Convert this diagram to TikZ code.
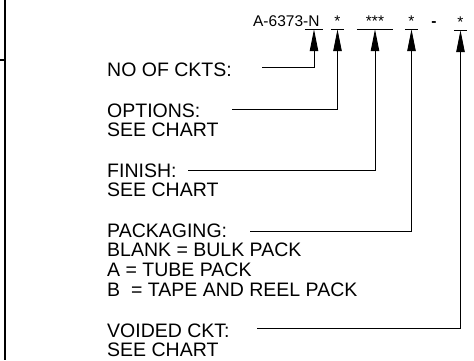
\documentclass[tikz,border=0pt]{standalone}
\usepackage{fontspec}
\setmainfont{Liberation Sans}
\usetikzlibrary{positioning,arrows.meta}

\begin{document}
\begin{tikzpicture}[x=1pt, y=-1pt, node distance=5.5pt,
        code/.style={font=\fontsize{15.5}{15.5}\selectfont, inner sep=0pt, text depth=3pt, anchor=base},
        note/.style={font=\fontsize{19.5}{19.5}\selectfont, inner sep=0pt, text height=14pt, text depth=0pt, anchor=west},
        feed/.style={line width=0.9pt, -{Triangle[length=22pt, width=8.5pt]}}]
        \useasboundingbox (0,0) rectangle (474,360);

        % Part number
        \node (PRE) [code, anchor=base east] at (308.5,26) {A-6373-};
        \node (N) [code, minimum width=18pt] at (314,26) {N};
        \node (OPTS) [code, minimum width=13pt] at (337.5,26) {*};
        \node (FINS) [code, minimum width=36pt] at (375,26) {***};
        \node (PACKS) [code, minimum width=13pt] at (411.5,26) {*};
        \node (DASH) [code] at (434,26) {\textbf{-}};
        \node (VOIDS) [code, minimum width=13pt] at (460.5,27) {*};

        \foreach \n in {N,OPTS,FINS,PACKS,VOIDS}
            \draw[line width=0.9pt] (\n.south west) -- (\n.south east);

        % Notes
        \node (CKTS) [note] at (107,69) {NO OF CKTS:};

        \node (OPT) [note] at (107,110) {OPTIONS:};
        \node (OPTa) [note, below=of OPT.south west, anchor=north west] {SEE CHART};

        \node (FIN) [note] at (107,170) {FINISH:};
        \node (FINa) [note, below=of FIN.south west, anchor=north west] {SEE CHART};

        \node (PACK) [note] at (107,230) {PACKAGING:};
        \node (PACKa) [note, below=of PACK.south west, anchor=north west] {BLANK = BULK PACK};
        \node (PACKb) [note, below=of PACKa.south west, anchor=north west] {A = TUBE PACK};
        \node (PACKc) [note, below=of PACKb.south west, anchor=north west] {B~ = TAPE AND REEL PACK};

        \node (VOID) [note] at (107,330) {VOIDED CKT:};
        \node (VOIDa) [note, below=of VOID.south west, anchor=north west] {SEE CHART};

        % Leader starts
        \coordinate (L1) at (262,67.5);
        \coordinate (L2) at (232,109);
        \coordinate (L3) at (188,170);
        \coordinate (L4) at (250,231);
        \coordinate (L5) at (257,328);

        % Drawing leaders up to the part number
        \draw[feed] (L1) -| (N.south);
        \draw[feed] (L2) -| (OPTS.south);
        \draw[feed] (L3) -| (FINS.south);
        \draw[feed] (L4) -| (PACKS.south);
        \draw[feed] (L5) -| (VOIDS.south);

        % Frame edge
        \draw[line width=1.3pt] (5,0) -- (5,360);
        \draw[line width=1.3pt] (0,60) -- (5,60);
    \end{tikzpicture}
\end{document}
